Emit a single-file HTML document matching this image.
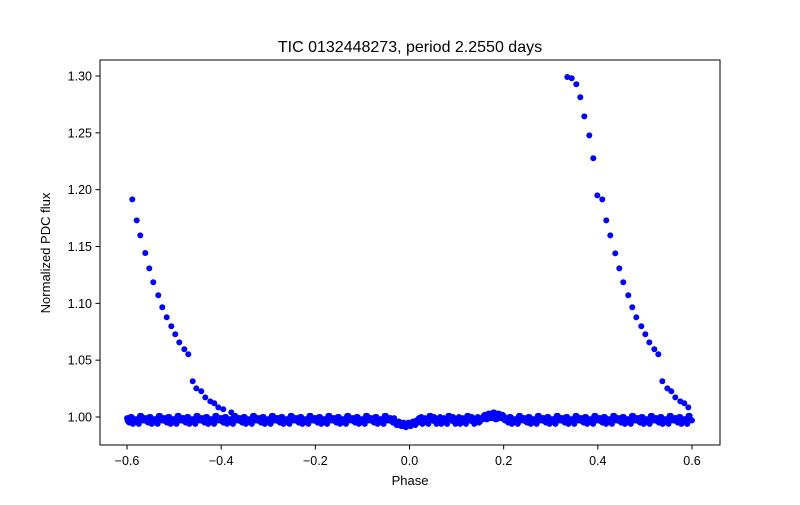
<!DOCTYPE html>
<html><head><meta charset="utf-8"><style>
body{margin:0;background:#fff;}
svg text{font-family:"Liberation Sans","DejaVu Sans",sans-serif;fill:#000;}
</style></head><body>
<svg id="chart" width="800" height="500">
<rect width="800" height="500" fill="#fff"/>
<text x="410" y="52" font-size="16" text-anchor="middle">TIC 0132448273, period 2.2550 days</text>
<g id="marks"></g>
<rect x="100" y="60" width="620" height="385" fill="none" stroke="#000" stroke-width="1"/>
<g id="xaxis"></g>
<g id="yaxis"></g>
<text x="410" y="485" font-size="13" text-anchor="middle">Phase</text>
<text x="50" y="253" font-size="13" text-anchor="middle" transform="rotate(-90 50 253)">Normalized PDC flux</text>
</svg>
<script>
const xTicks=[-0.6,-0.4,-0.2,0.0,0.2,0.4,0.6];
const xTickLabels=["−0.6","−0.4","−0.2","0.0","0.2","0.4","0.6"];
const yTicks=[1.00,1.05,1.10,1.15,1.20,1.25,1.30];
const yTickLabels=["1.00","1.05","1.10","1.15","1.20","1.25","1.30"];
const leftPhase=[-0.5888,-0.5794,-0.5718,-0.5612,-0.5527,-0.5442,-0.5336,-0.5251,-0.5157,-0.5059,-0.4975,-0.4890,-0.4783,-0.4698,-0.4605,-0.4528,-0.4422,-0.4337,-0.4231,-0.4146,-0.4061,-0.3955,-0.3785];
const leftFlux=[1.1915,1.1730,1.1598,1.1443,1.1308,1.1185,1.1071,1.0965,1.0877,1.0798,1.0728,1.0657,1.0596,1.0552,1.0314,1.0252,1.0226,1.0173,1.0138,1.0121,1.0085,1.0068,1.0041];
const rightPhase=[0.3352,0.3445,0.3543,0.3628,0.3713,0.3819,0.3904,0.3989,0.4095,0.4180,0.4265,0.4371,0.4456,0.4541,0.4647,0.4732,0.4817,0.4924,0.5009,0.5094,0.5200,0.5285,0.5370,0.5476,0.5561,0.5646,0.5752,0.5837,0.5922];
const rightFlux=[1.2991,1.2980,1.2927,1.2813,1.2645,1.2478,1.2276,1.1950,1.1915,1.1730,1.1598,1.1440,1.1308,1.1185,1.1071,1.0965,1.0877,1.0798,1.0728,1.0657,1.0596,1.0552,1.0314,1.0252,1.0226,1.0173,1.0138,1.0121,1.0085];
const baseStart=-0.6, baseStep=0.005;
const baseFlux=[
0.999,0.995,1.000,0.996,0.998,0.994,1.001,0.997,
0.999,0.995,1.000,0.996,0.998,0.994,1.001,0.997,
0.999,0.995,1.000,0.996,0.998,0.994,1.001,0.997,
0.999,0.995,1.000,0.996,0.998,0.994,1.001,0.997,
0.999,0.995,1.000,0.996,0.998,0.994,1.001,0.997,
0.999,0.995,1.000,0.996,0.998,0.994,1.001,0.997,
0.999,0.995,1.000,0.996,0.998,0.994,1.001,0.997,
0.999,0.995,1.000,0.996,0.998,0.994,1.001,0.997,
0.999,0.995,1.000,0.996,0.998,0.994,1.001,0.997,
0.999,0.995,1.000,0.996,0.998,0.994,1.001,0.997,
0.999,0.995,1.000,0.996,0.998,0.994,1.001,0.997,
0.999,0.995,1.000,0.996,0.998,0.994,1.001,0.997,
0.999,0.995,1.000,0.996,0.998,0.994,1.001,0.997,
0.999,0.995,1.000,0.996,0.998,0.994,1.001,0.997,
0.999,0.995,
0.996,0.993,0.995,0.992,0.994,0.992,0.993,0.995,0.994,0.997,0.999,
1.000,0.996,0.998,0.994,1.001,0.997,0.999,0.995,
1.000,0.996,0.998,0.994,1.001,0.997,0.999,0.995,
1.000,0.996,0.998,0.994,1.001,0.997,0.999,0.995,
1.000,0.996,0.998,
1.002,0.998,1.003,0.999,1.004,0.998,1.003,0.999,1.001,
0.999,0.995,1.000,0.996,0.998,0.994,1.001,0.997,
0.999,0.995,1.000,0.996,0.998,0.994,1.001,0.997,
0.999,0.995,1.000,0.996,0.998,0.994,1.001,0.997,
0.999,0.995,1.000,0.996,0.998,0.994,1.001,0.997,
0.999,0.995,1.000,0.996,0.998,0.994,1.001,0.997,
0.999,0.995,1.000,0.996,0.998,0.994,1.001,0.997,
0.999,0.995,1.000,0.996,0.998,0.994,1.001,0.997,
0.999,0.995,1.000,0.996,0.998,0.994,1.001,0.997,
0.999,0.995,1.000,0.996,0.998,0.994,1.001,0.997,
0.999,0.995,1.000,0.996,0.998,0.994,1.001,0.997];
const baseFluxB=[
0.996,1.000,0.994,0.998,0.995,1.001,0.997,0.999,
0.996,1.000,0.994,0.998,0.995,1.001,0.997,0.999,
0.996,1.000,0.994,0.998,0.995,1.001,0.997,0.999,
0.996,1.000,0.994,0.998,0.995,1.001,0.997,0.999,
0.996,1.000,0.994,0.998,0.995,1.001,0.997,0.999,
0.996,1.000,0.994,0.998,0.995,1.001,0.997,0.999,
0.996,1.000,0.994,0.998,0.995,1.001,0.997,0.999,
0.996,1.000,0.994,0.998,0.995,1.001,0.997,0.999,
0.996,1.000,0.994,0.998,0.995,1.001,0.997,0.999,
0.996,1.000,0.994,0.998,0.995,1.001,0.997,0.999,
0.996,1.000,0.994,0.998,0.995,1.001,0.997,0.999,
0.996,1.000,0.994,0.998,0.995,1.001,0.997,0.999,
0.996,1.000,0.994,0.998,0.995,1.001,0.997,0.999,
0.996,1.000,0.994,0.998,0.995,1.001,0.997,0.999,
0.996,0.999,
0.993,0.996,0.992,0.995,0.991,0.995,0.992,0.996,0.993,0.995,0.996,
0.994,0.999,0.995,1.001,0.997,1.000,0.994,0.998,
0.994,0.999,0.995,1.001,0.997,1.000,0.994,0.998,
0.994,0.999,0.995,1.001,0.997,1.000,0.994,0.998,
0.995,0.999,1.001,
0.998,1.003,0.999,1.004,0.998,1.003,0.999,1.002,0.997,
0.996,1.000,0.994,0.998,0.995,1.001,0.997,0.999,
0.996,1.000,0.994,0.998,0.995,1.001,0.997,0.999,
0.996,1.000,0.994,0.998,0.995,1.001,0.997,0.999,
0.996,1.000,0.994,0.998,0.995,1.001,0.997,0.999,
0.996,1.000,0.994,0.998,0.995,1.001,0.997,0.999,
0.996,1.000,0.994,0.998,0.995,1.001,0.997,0.999,
0.996,1.000,0.994,0.998,0.995,1.001,0.997,0.999,
0.996,1.000,0.994,0.998,0.995,1.001,0.997,0.999,
0.996,1.000,0.994,0.998,0.995,1.001,0.997,0.999,
0.996,1.000,0.994,0.998,0.995,1.001,0.997,0.999];
const baseFluxC=[
0.997,0.998,0.9975,0.997,0.998,0.9965,0.998,0.997,
0.997,0.998,0.9975,0.997,0.998,0.9965,0.998,0.997,
0.997,0.998,0.9975,0.997,0.998,0.9965,0.998,0.997,
0.997,0.998,0.9975,0.997,0.998,0.9965,0.998,0.997,
0.997,0.998,0.9975,0.997,0.998,0.9965,0.998,0.997,
0.997,0.998,0.9975,0.997,0.998,0.9965,0.998,0.997,
0.997,0.998,0.9975,0.997,0.998,0.9965,0.998,0.997,
0.997,0.998,0.9975,0.997,0.998,0.9965,0.998,0.997,
0.997,0.998,0.9975,0.997,0.998,0.9965,0.998,0.997,
0.997,0.998,0.9975,0.997,0.998,0.9965,0.998,0.997,
0.997,0.998,0.9975,0.997,0.998,0.9965,0.998,0.997,
0.997,0.998,0.9975,0.997,0.998,0.9965,0.998,0.997,
0.997,0.998,0.9975,0.997,0.998,0.9965,0.998,0.997,
0.997,0.998,0.9975,0.997,0.998,0.9965,0.998,0.997,
0.997,0.997,
0.995,0.995,0.994,0.9935,0.993,0.993,0.9935,0.994,0.995,0.996,0.997,
0.997,0.998,0.9975,0.997,0.998,0.9965,0.998,0.997,
0.997,0.998,0.9975,0.997,0.998,0.9965,0.998,0.997,
0.997,0.998,0.9975,0.997,0.998,0.9965,0.998,0.997,
0.997,0.998,0.999,
1.000,1.0005,1.001,1.001,1.001,1.0005,1.000,0.999,0.998,
0.997,0.998,0.9975,0.997,0.998,0.9965,0.998,0.997,
0.997,0.998,0.9975,0.997,0.998,0.9965,0.998,0.997,
0.997,0.998,0.9975,0.997,0.998,0.9965,0.998,0.997,
0.997,0.998,0.9975,0.997,0.998,0.9965,0.998,0.997,
0.997,0.998,0.9975,0.997,0.998,0.9965,0.998,0.997,
0.997,0.998,0.9975,0.997,0.998,0.9965,0.998,0.997,
0.997,0.998,0.9975,0.997,0.998,0.9965,0.998,0.997,
0.997,0.998,0.9975,0.997,0.998,0.9965,0.998,0.997,
0.997,0.998,0.9975,0.997,0.998,0.9965,0.998,0.997,
0.997,0.998,0.9975,0.997,0.998,0.9965,0.998,0.997];

const NS="http://www.w3.org/2000/svg";
function sx(v){return 409.5+v*470.8;}
function sy(v){return 417-(v-1)*1136.7;}
const marks=document.getElementById('marks');
function dot(x,y){
  const c=document.createElementNS(NS,'circle');
  c.setAttribute('cx',sx(x));c.setAttribute('cy',sy(y));c.setAttribute('r',3);
  c.setAttribute('fill','#0000ff');
  
  
  marks.appendChild(c);
}
baseFlux.forEach((f,i)=>dot(baseStart+i*baseStep,f));
baseFluxB.forEach((f,i)=>{ if(i<240) dot(baseStart+(i+0.5)*baseStep,f); });
baseFluxC.forEach((f,i)=>{ if(i<240) dot(baseStart+(i+0.25)*baseStep,f); });
leftPhase.forEach((p,i)=>dot(p,leftFlux[i]));
rightPhase.forEach((p,i)=>dot(p,rightFlux[i]));

const xa=document.getElementById('xaxis');
xTicks.forEach((t,i)=>{
  const l=document.createElementNS(NS,'line');
  l.setAttribute('x1',sx(t));l.setAttribute('x2',sx(t));l.setAttribute('y1',445);l.setAttribute('y2',449.5);l.setAttribute('stroke','#000');
  
  
  xa.appendChild(l);
  const tx=document.createElementNS(NS,'text');
  tx.setAttribute('x',sx(t));tx.setAttribute('y',465);tx.setAttribute('font-size','12.5');tx.setAttribute('text-anchor','middle');
  tx.textContent=xTickLabels[i];
  
  
  xa.appendChild(tx);
});
const ya=document.getElementById('yaxis');
yTicks.forEach((t,i)=>{
  const l=document.createElementNS(NS,'line');
  l.setAttribute('x1',95.5);l.setAttribute('x2',100);l.setAttribute('y1',sy(t));l.setAttribute('y2',sy(t));l.setAttribute('stroke','#000');
  
  
  ya.appendChild(l);
  const tx=document.createElementNS(NS,'text');
  tx.setAttribute('x',92);tx.setAttribute('y',sy(t)+4.5);tx.setAttribute('font-size','12.5');tx.setAttribute('text-anchor','end');
  tx.textContent=yTickLabels[i];
  
  
  ya.appendChild(tx);
});
</script>
</body></html>
